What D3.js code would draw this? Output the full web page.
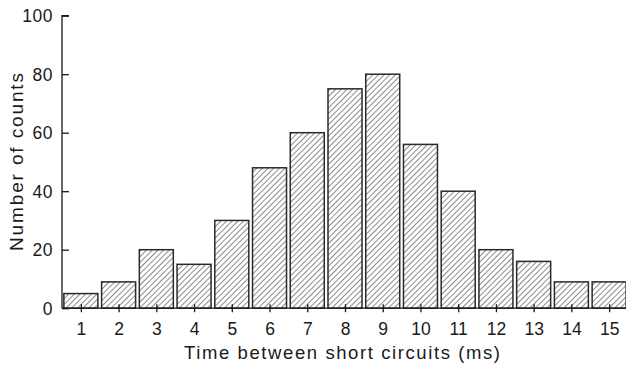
<!DOCTYPE html>
<html><head><meta charset="utf-8">
<script src="https://cdn.jsdelivr.net/npm/d3@7"></script>
<style>body{margin:0;background:#fff}svg{display:block}text{font-family:"Liberation Sans",Arial,sans-serif;fill:#1a1a1a}</style>
</head><body>
<script>
const categories = [1,2,3,4,5,6,7,8,9,10,11,12,13,14,15];
const counts = [5,9,20,15,30,48,60,75,80,56,40,20,16,9,9];
const yTicks = [0,20,40,60,80,100];

const W = 626, H = 365;
const svg = d3.select("body").append("svg").attr("width", W).attr("height", H);

const x = d3.scaleLinear().domain([0.5, 15.5]).range([62, 628]);
const y = d3.scaleLinear().domain([0, 100]).range([308.2, 15.7]);
const bw = 34;

const defs = svg.append("defs");
const pat = defs.append("pattern").attr("id","hatch").attr("patternUnits","userSpaceOnUse")
  .attr("width",4).attr("height",4).attr("patternTransform","rotate(45)");
pat.append("rect").attr("width",4).attr("height",4).attr("fill","#fff");
pat.append("line").attr("x1",0).attr("y1",0).attr("x2",0).attr("y2",4)
  .attr("stroke","#2a2a2a").attr("stroke-width",1.1);

svg.append("g").selectAll("rect").data(categories).join("rect")
  .attr("x", (d) => x(d) - bw/2)
  .attr("y", (d,i) => y(counts[i]))
  .attr("width", bw)
  .attr("height", (d,i) => y(0) - y(counts[i]))
  .attr("fill","url(#hatch)")
  .attr("stroke","#2a2a2a").attr("stroke-width",1.5);

// y axis
const ya = svg.append("g").attr("transform","translate(62,0)")
  .call(d3.axisRight(y).tickValues(yTicks).tickSize(7).tickFormat(d3.format("d")));
ya.attr("font-family",null).attr("font-size",null);
ya.select(".domain").attr("d", `M7,${y(100)}H0V${y(0)}`).attr("stroke","#1a1a1a").attr("stroke-width",1.3);
ya.selectAll(".tick line").attr("stroke","#1a1a1a").attr("stroke-width",1.3);
ya.selectAll(".tick text").attr("x",-9).attr("text-anchor","end").attr("font-size",17.5).attr("dy","0.35em")
  .attr("letter-spacing",0.5).attr("fill","#1a1a1a");

// x axis
const xa = svg.append("g").attr("transform",`translate(0,${y(0)})`)
  .call(d3.axisBottom(x).tickValues(categories).tickSize(4).tickFormat(d3.format("d")));
xa.attr("font-family",null).attr("font-size",null);
xa.select(".domain").attr("d", `M62,0H626`).attr("stroke","#1a1a1a").attr("stroke-width",1.3);
xa.selectAll(".tick line").attr("y1",-4).attr("y2",4).attr("stroke","#1a1a1a").attr("stroke-width",1.3);
xa.selectAll(".tick text").attr("y",14).attr("dy","0.71em").attr("font-size",17.5).attr("fill","#1a1a1a");

svg.append("text").attr("x",342).attr("y",359).attr("text-anchor","middle")
  .attr("font-size",18.5).attr("textLength",316).attr("lengthAdjust","spacing")
  .text("Time between short circuits (ms)");
svg.append("text").attr("transform","translate(23,162) rotate(-90)").attr("text-anchor","middle")
  .attr("font-size",19).attr("textLength",178).attr("lengthAdjust","spacing")
  .text("Number of counts");
</script>
</body></html>
